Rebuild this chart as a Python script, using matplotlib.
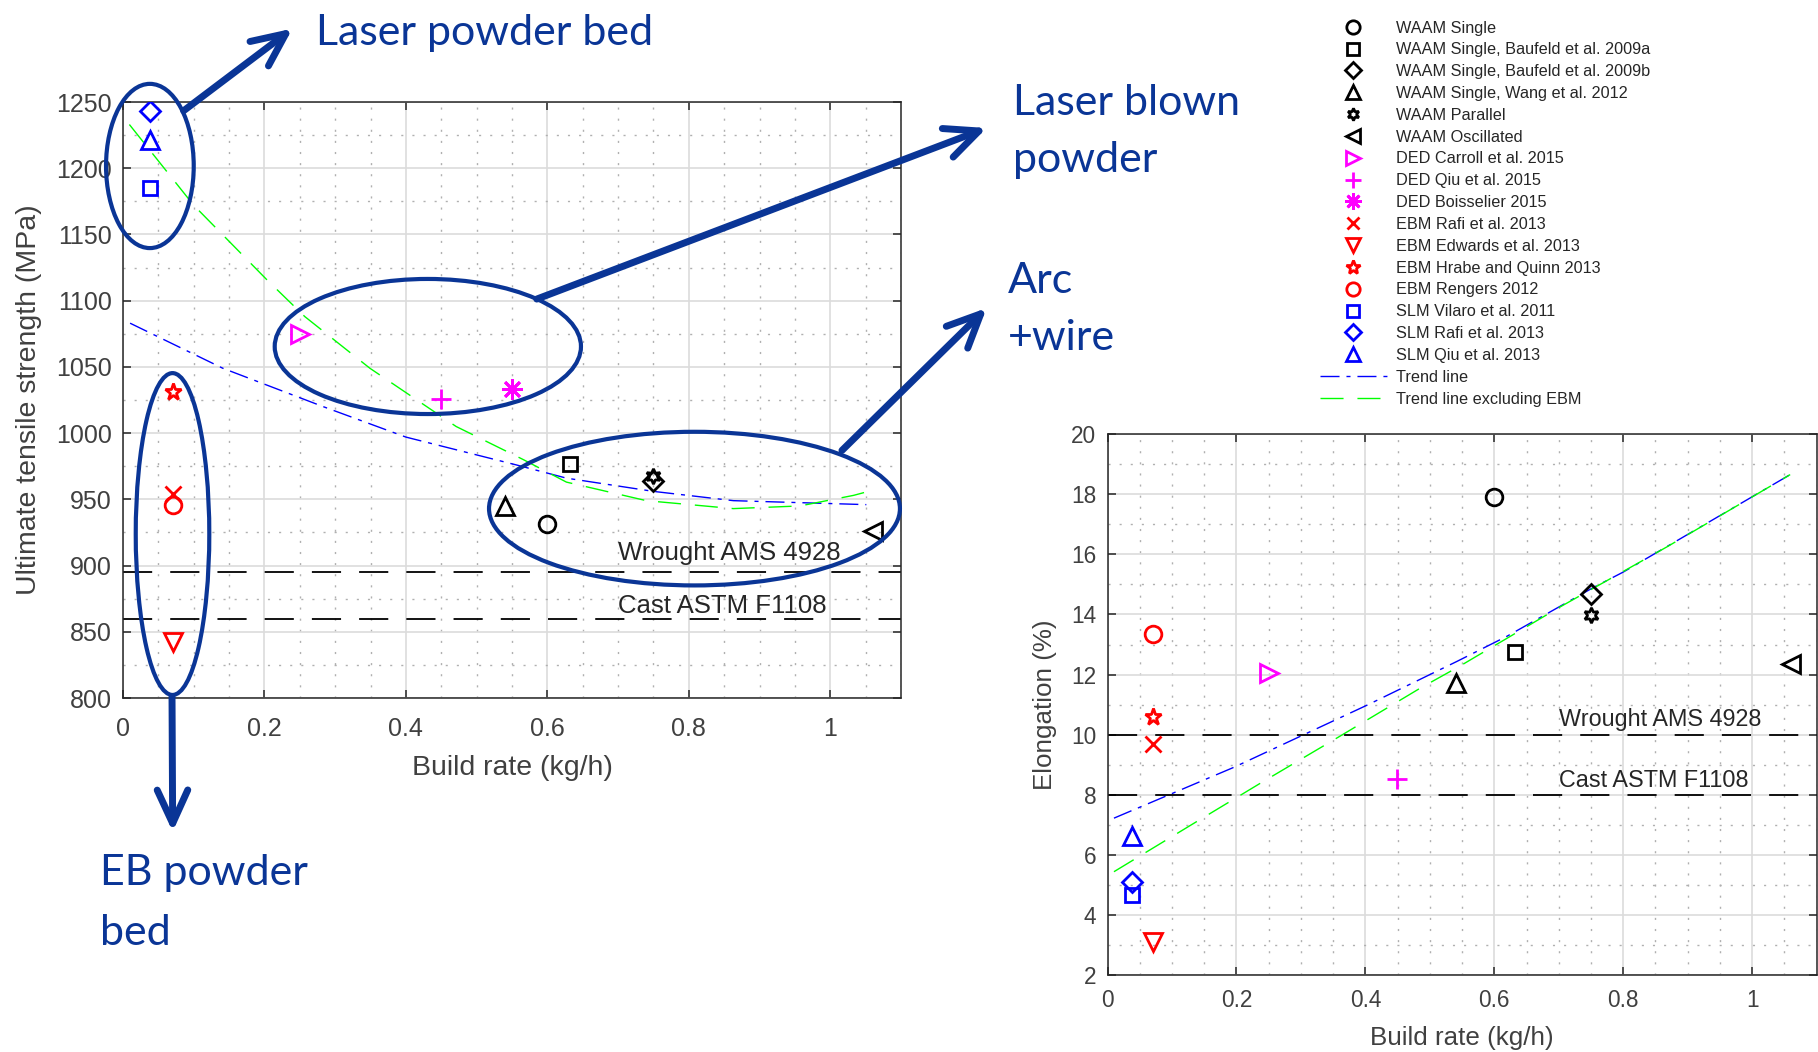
import numpy as np
import matplotlib
matplotlib.use('Agg')
import matplotlib.pyplot as plt
from matplotlib.patches import Ellipse
from matplotlib.ticker import MultipleLocator, FuncFormatter

plt.rcParams['font.family'] = ['Liberation Sans', 'DejaVu Sans']
plt.rcParams['lines.scale_dashes'] = False

# данные: серии
series = ['WAAM Single', 'WAAM Single, Baufeld et al. 2009a', 'WAAM Single, Baufeld et al. 2009b',
          'WAAM Single, Wang et al. 2012', 'WAAM Parallel', 'WAAM Oscillated',
          'DED Carroll et al. 2015', 'DED Qiu et al. 2015', 'DED Boisselier 2015',
          'EBM Rafi et al. 2013', 'EBM Edwards et al. 2013', 'EBM Hrabe and Quinn 2013',
          'EBM Rengers 2012', 'SLM Vilaro et al. 2011', 'SLM Rafi et al. 2013', 'SLM Qiu et al. 2013']
build_rate = [0.60, 0.632, 0.75, 0.54, 0.75, 1.06, 0.25, 0.449, 0.55,
              0.07, 0.07, 0.07, 0.07, 0.038, 0.038, 0.038]
uts = [931, 977, 964, 945, 967.5, 926, 1075, 1026, 1033,
       954, 842, 1031, 945.5, 1185, 1243, 1221]
elongation = [17.92, 12.75, 14.69, 11.73, 13.99, 12.37, 12.07, 8.53, None,
              9.70, 3.12, 10.60, 13.34, 4.68, 5.12, 6.64]

# линии тренда
uts_trend_x = [0.01, 0.141, 0.283, 0.4, 0.556, 0.627, 0.75, 0.863, 1.051]
uts_trend_y = [1083, 1049, 1020, 997, 976, 966, 956, 949, 946]
uts_trend2_x = [0.009, 0.1, 0.203, 0.257, 0.349, 0.471, 0.566, 0.627, 0.74, 0.863, 0.957, 1.033, 1.061]
uts_trend2_y = [1233, 1172, 1116, 1088, 1049, 1005, 980, 963, 949, 943, 945, 953, 957]
el_trend_x = [0.01, 0.196, 0.403, 0.542, 0.62, 0.754, 0.8, 1.059]
el_trend_y = [7.23, 8.92, 10.99, 12.44, 13.28, 14.9, 15.41, 18.65]
el_trend2_x = [0.01, 0.134, 0.237, 0.361, 0.485, 0.547, 0.702, 0.868, 1.059]
el_trend2_y = [5.45, 7.06, 8.39, 9.96, 11.55, 12.29, 14.25, 16.25, 18.65]

wrought_uts, cast_uts = 895, 860
wrought_el, cast_el = 10, 8

# стили маркеров
markers = ['o', 's', 'D', '^', (6, 1, 0), '<', '>', '+', (8, 2, 0),
           'x', 'v', '*', 'o', 's', 'D', '^']
colors = ['k'] * 6 + ['#ff00ff'] * 3 + ['#ff0000'] * 4 + ['#0000ff'] * 3
msizes = [12, 10.5, 10, 12.5, 11, 12.5, 12.5, 15, 15, 11.5, 12.5, 12.5, 12, 10.5, 10, 12.5]

navy = '#0a3596'
txt_col = '#262626'

fig = plt.figure(figsize=(18.18, 10.52), dpi=100)
ax1 = fig.add_axes([0.06766, 0.3365, 0.42794, 0.56654])
ax2 = fig.add_axes([0.60919, 0.07272, 0.39004, 0.51474])

handles = []
for i in range(len(series)):
    h, = ax1.plot(build_rate[i], uts[i], ls='none', marker=markers[i], color=colors[i],
                  mfc='none', ms=msizes[i], mew=2, zorder=4)
    handles.append(h)
    if elongation[i] is not None:
        ax2.plot(build_rate[i], elongation[i], ls='none', marker=markers[i], color=colors[i],
                 mfc='none', ms=msizes[i], mew=2, zorder=4)

blue_ls = (0, (13.7, 5, 2.9, 5))
green_ls = (0, (16.6, 10))
t1, = ax1.plot(uts_trend_x, uts_trend_y, color='#0000ff', ls=blue_ls, lw=1)
t2, = ax1.plot(uts_trend2_x, uts_trend2_y, color='#00ff00', ls=green_ls, lw=1)
ax2.plot(el_trend_x, el_trend_y, color='#0000ff', ls=blue_ls, lw=1)
ax2.plot(el_trend2_x, el_trend2_y, color='#00ff00', ls=green_ls, lw=1)
handles += [t1, t2]

dash = (0, (21, 13))
ax1.axhline(wrought_uts, color='k', ls=dash, lw=1.3)
ax1.axhline(cast_uts, color='k', ls=dash, lw=1.3)
ax1.text(0.70, 904, 'Wrought AMS 4928', fontsize=18.5, color=txt_col)
ax1.text(0.70, 864, 'Cast ASTM F1108', fontsize=18.5, color=txt_col)
ax2.axhline(wrought_el, color='k', ls=dash, lw=1.3)
ax2.axhline(cast_el, color='k', ls=dash, lw=1.3)
ax2.text(0.70, 10.28, 'Wrought AMS 4928', fontsize=16.8, color=txt_col)
ax2.text(0.70, 8.28, 'Cast ASTM F1108', fontsize=16.8, color=txt_col)

fmt = FuncFormatter(lambda v, p: '%g' % round(v, 3))
for ax, ylim, ymaj, ymin, fs, xpad in [(ax1, (800, 1250), 50, 25, 18, 14),
                                       (ax2, (2, 20), 2, 1, 16.3, 10)]:
    ax.set_xlim(0, 1.1)
    ax.set_ylim(*ylim)
    ax.xaxis.set_major_locator(MultipleLocator(0.2))
    ax.xaxis.set_minor_locator(MultipleLocator(0.05))
    ax.yaxis.set_major_locator(MultipleLocator(ymaj))
    ax.yaxis.set_minor_locator(MultipleLocator(ymin))
    ax.xaxis.set_major_formatter(fmt)
    ax.set_axisbelow(True)
    ax.grid(True, which='major', color='#dcdcdc', lw=1.2, ls='-')
    ax.grid(True, which='minor', color='#b0b0b0', lw=1, ls=(0, (1.5, 6.5)))
    ax.tick_params(which='major', direction='in', top=True, right=True, length=6,
                   width=1.1, labelsize=fs, labelcolor='#404040', color='#262626')
    ax.tick_params(axis='y', which='major', pad=8)
    ax.tick_params(axis='x', which='major', pad=xpad)
    ax.tick_params(which='minor', length=0)
    for sp in ax.spines.values():
        sp.set_color('#262626')
        sp.set_linewidth(1.1)

ax1.set_xlabel('Build rate (kg/h)', fontsize=20.5, color='#404040', labelpad=10)
ax1.set_ylabel('Ultimate tensile strength (MPa)', fontsize=20.5, color='#404040', labelpad=10)
ax2.set_xlabel('Build rate (kg/h)', fontsize=18.7, color='#404040', labelpad=10)
ax2.set_ylabel('Elongation (%)', fontsize=18.7, color='#404040', labelpad=10)

fig.legend(handles=handles, labels=series + ['Trend line', 'Trend line excluding EBM'],
           loc='upper left', bbox_to_anchor=(1320 / 1818, 1 - 20.5 / 1052),
           frameon=False, fontsize=11.7, handlelength=4.1, handletextpad=0.6,
           labelspacing=0.42, borderpad=0, borderaxespad=0, labelcolor=txt_col,
           markerscale=0.8)

# эллипсы вокруг групп
groups = [(0.038, 1201.7, 0.124, 124), (0.431, 1065.4, 0.433, 102),
          (0.808, 943, 0.581, 116), (0.07, 923.8, 0.104, 243)]
for cx, cy, w, h in groups:
    ax1.add_patch(Ellipse((cx, cy), w, h, fill=False, ec=navy, lw=3,
                          clip_on=False, zorder=6))

# стрелки и подписи
W, H = 1818.0, 1052.0
arrows = [((0.0857, 1243.4), (292.5, 28.6)), ((0.585, 1101.2), (986.7, 128)),
          ((1.0165, 986.9), (986.7, 308)), ((0.0693, 800.8), (172.7, 831.7))]
for tail, tip in arrows:
    ax1.annotate('', xy=(tip[0] / W, 1 - tip[1] / H), xycoords='figure fraction',
                 xytext=tail, textcoords='data',
                 arrowprops=dict(arrowstyle='->,head_length=24,head_width=11', lw=5,
                                 color=navy, shrinkA=0, shrinkB=0, mutation_scale=1),
                 zorder=7)

notes = [('Laser powder bed', 316, 44.6), ('Laser blown', 1013, 115), ('powder', 1013, 172),
         ('Arc', 1008, 293), ('+wire', 1008, 350), ('EB powder', 100, 885), ('bed', 100, 945)]
for s, x, y in notes:
    fig.text(x / W, 1 - y / H, s, fontsize=31, family=['Lato', 'DejaVu Sans'], color=navy,
             ha='left', va='baseline')

plt.savefig('out.png', dpi=100)
